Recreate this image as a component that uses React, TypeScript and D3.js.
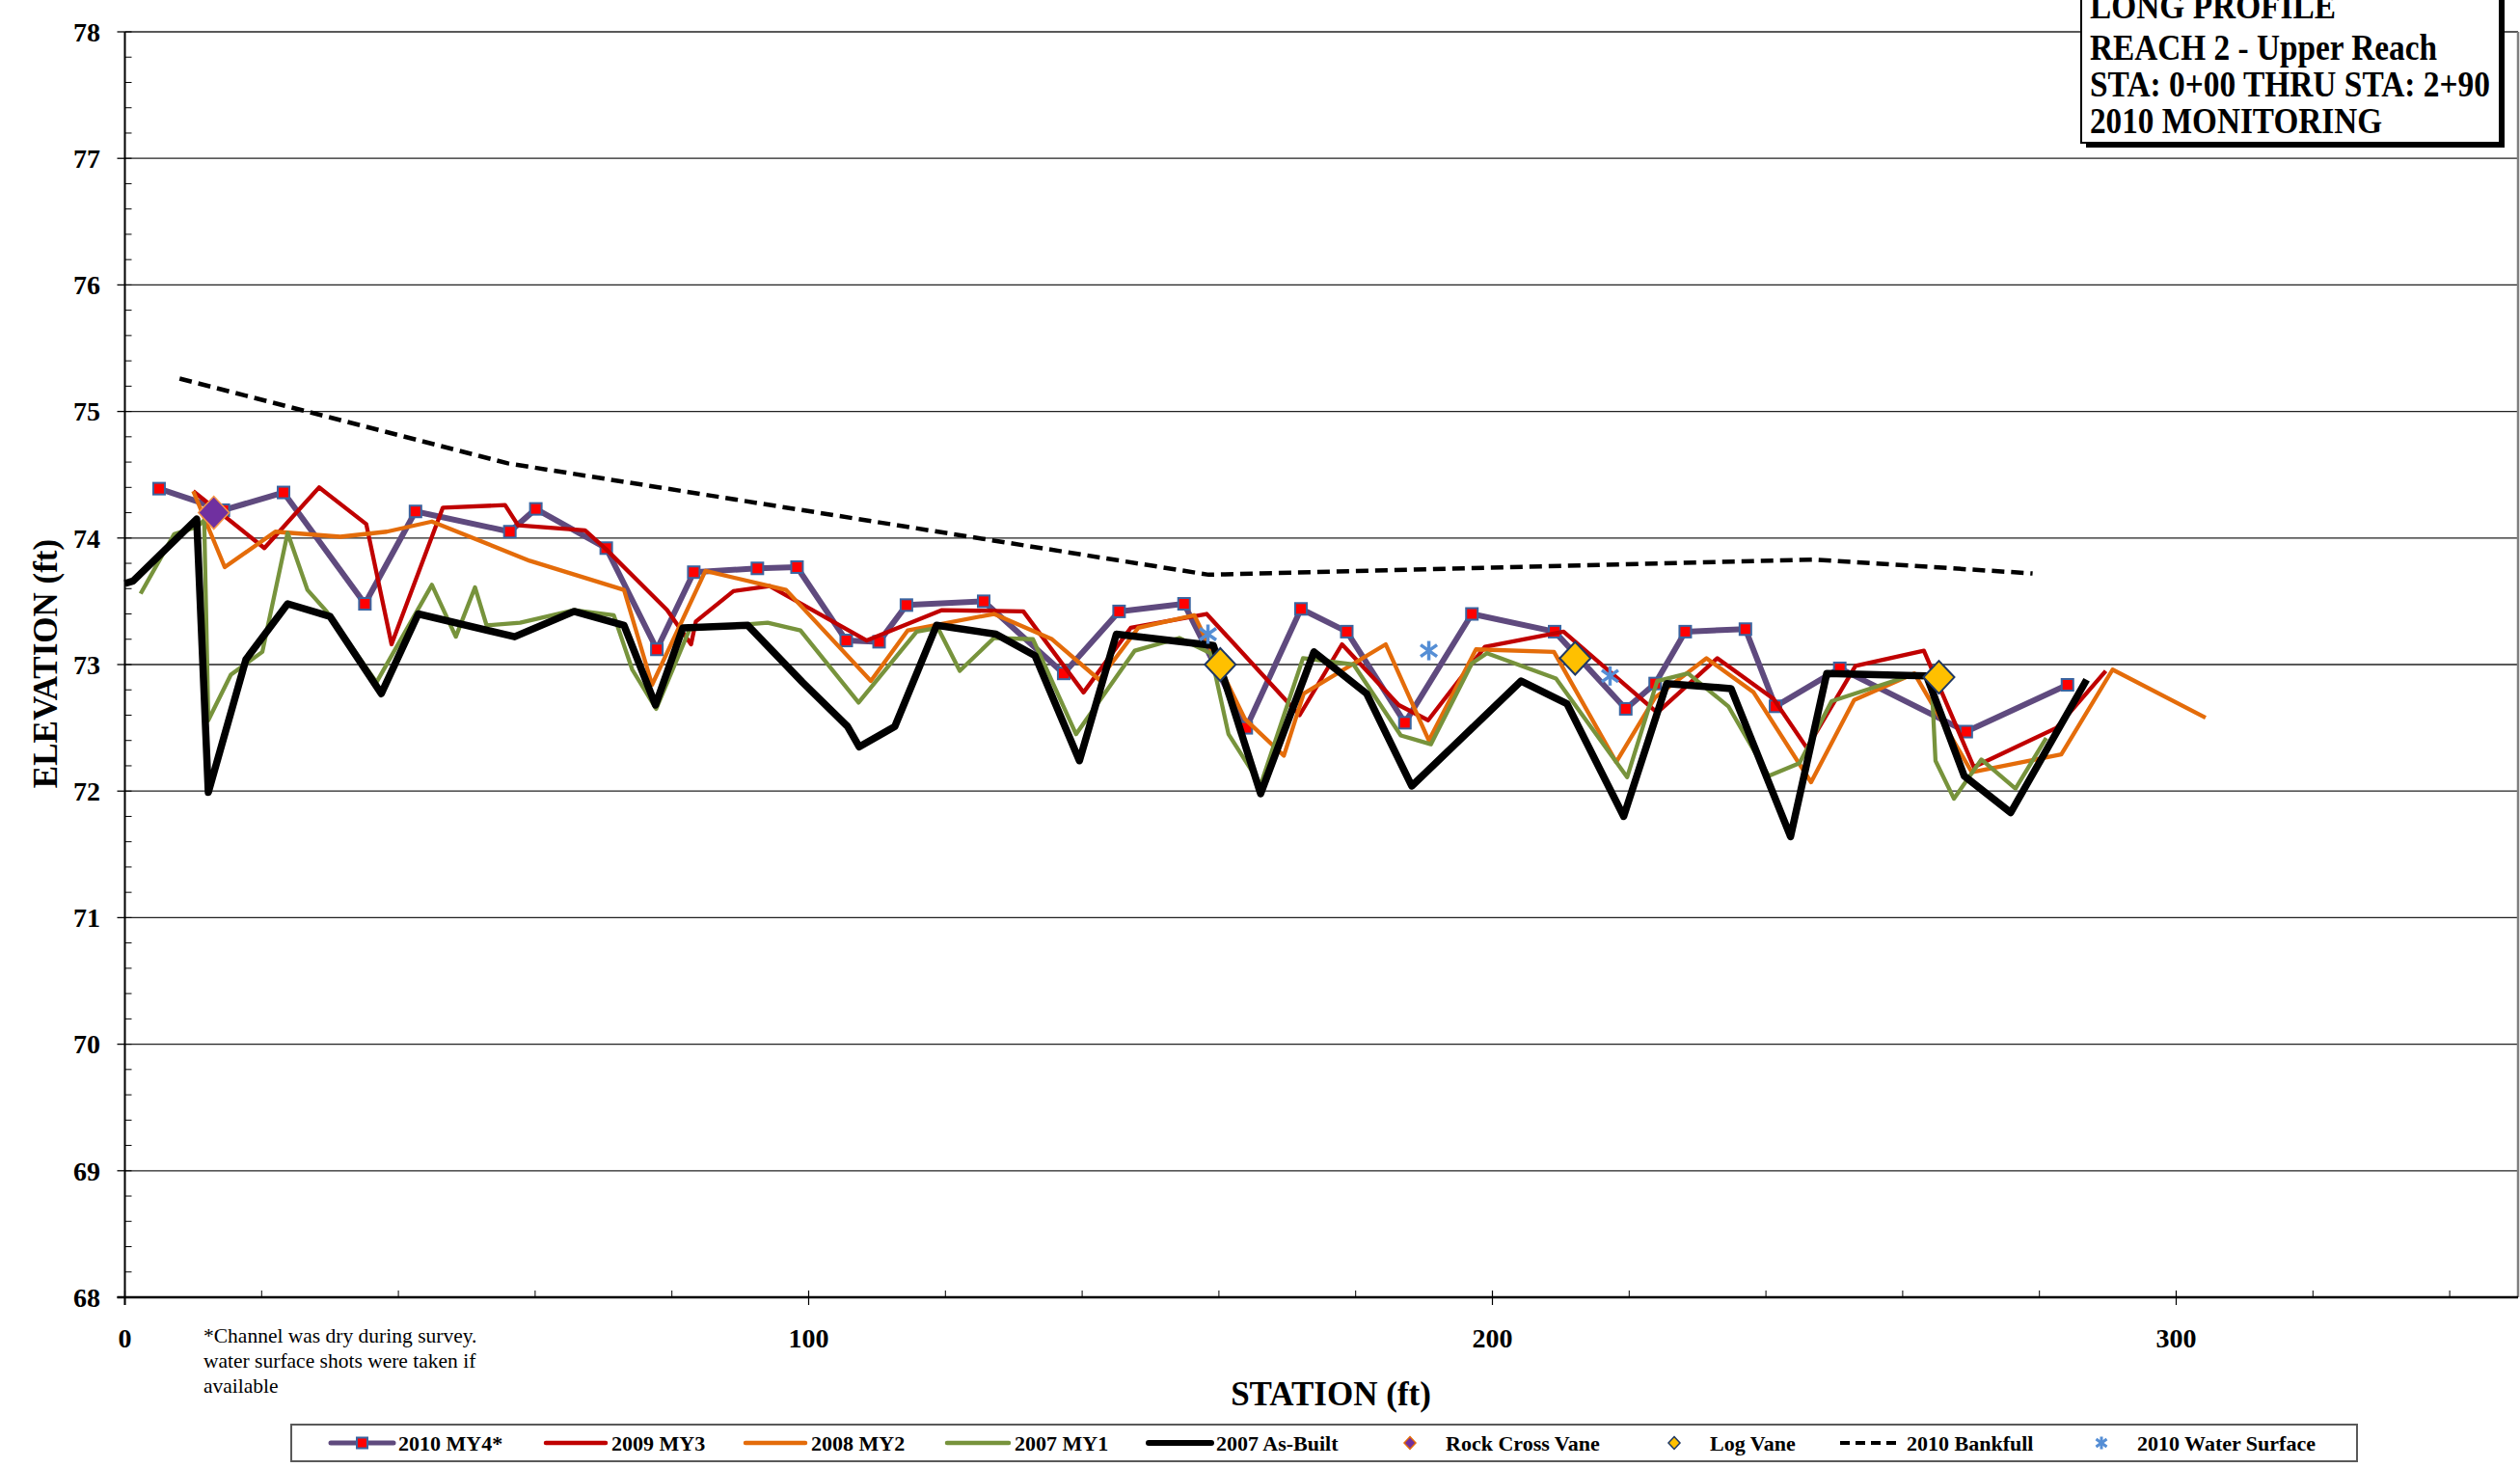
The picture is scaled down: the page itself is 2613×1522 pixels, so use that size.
import React from 'react';
import * as d3 from 'd3';

// ---------- DATA (station ft, elevation ft) ----------
const my4_2010: [number, number][] = [
  [5, 74.39], [14.4, 74.22], [23.2, 74.36], [35.1, 73.48], [42.5, 74.21], [56.3, 74.05],
  [60.1, 74.23], [70.4, 73.92], [77.8, 73.12], [83.2, 73.73], [92.5, 73.76], [98.3, 73.77],
  [105.5, 73.19], [110.3, 73.18], [114.3, 73.47], [125.6, 73.5], [137.3, 72.93], [145.4, 73.42],
  [154.9, 73.48], [164.0, 72.5], [172.0, 73.44], [178.7, 73.26], [187.2, 72.54], [197.0, 73.4],
  [209.1, 73.26], [219.5, 72.65], [223.8, 72.85], [228.2, 73.26], [237.0, 73.28], [241.4, 72.67],
  [250.8, 72.97], [269.3, 72.47], [284.1, 72.84],
];
const my3_2009: [number, number][] = [
  [10.0, 74.37], [20.4, 73.92], [28.4, 74.4], [35.3, 74.11], [39.0, 73.16], [46.5, 74.24],
  [55.6, 74.26], [57.5, 74.1], [67.3, 74.06], [70.4, 73.91], [79.3, 73.43], [82.8, 73.16],
  [83.5, 73.34], [89.0, 73.58], [94.3, 73.62], [108.5, 73.19], [119.5, 73.43], [131.4, 73.42],
  [140.2, 72.78], [147.1, 73.29], [158.2, 73.4], [171.8, 72.6], [178.0, 73.16], [186.3, 72.68],
  [190.6, 72.56], [198.9, 73.14], [210.4, 73.26], [224.1, 72.62], [232.9, 73.05], [241.1, 72.73],
  [246.0, 72.34], [253.1, 72.99], [263.1, 73.11], [270.4, 72.19], [282.5, 72.5], [289.7, 72.95],
];
const my2_2008: [number, number][] = [
  [10.0, 74.37], [14.6, 73.77], [22.0, 74.05], [31.5, 74.01], [38.3, 74.05], [44.9, 74.13],
  [59.2, 73.82], [73.0, 73.59], [77.1, 72.84], [84.9, 73.74], [94.3, 73.62], [96.7, 73.59],
  [109.1, 72.87], [114.5, 73.27], [127.1, 73.4], [135.6, 73.2], [142.5, 72.88], [148.2, 73.29],
  [156.4, 73.39], [163.8, 72.57], [169.5, 72.28], [172.4, 72.77], [184.4, 73.16], [190.7, 72.4],
  [197.6, 73.12], [209.0, 73.1], [218.1, 72.23], [223.8, 72.74], [231.3, 73.05], [238.2, 72.78],
  [246.6, 72.07], [252.9, 72.72], [261.7, 72.93], [270.1, 72.15], [283.2, 72.29], [290.7, 72.96],
  [304.3, 72.58],
];
const my1_2007: [number, number][] = [
  [2.3, 73.56], [7.2, 74.03], [10.6, 74.09], [11.6, 74.14], [12.2, 72.56], [15.5, 72.92],
  [20.1, 73.1], [23.8, 74.04], [26.7, 73.59], [29.5, 73.42], [36.8, 72.86], [44.9, 73.63],
  [48.4, 73.22], [51.2, 73.61], [52.9, 73.31], [57.8, 73.33], [65.7, 73.43], [71.5, 73.39],
  [74.2, 72.96], [77.7, 72.65], [82.6, 73.28], [94.0, 73.33], [98.8, 73.27], [107.3, 72.7],
  [115.8, 73.26], [118.9, 73.29], [122.1, 72.95], [127.1, 73.21], [132.8, 73.2], [139.1, 72.45],
  [147.7, 73.11], [154.2, 73.21], [158.8, 73.09], [161.4, 72.45], [166.1, 72.05], [172.3, 73.05],
  [179.7, 73.0], [186.6, 72.44], [191.0, 72.37], [197.0, 73.01], [199.2, 73.09], [209.3, 72.89],
  [219.7, 72.11], [224.1, 72.87], [228.6, 72.93], [234.5, 72.67], [240.4, 72.12], [244.9, 72.22],
  [249.6, 72.71], [261.5, 72.92], [264.2, 72.9], [264.8, 72.24], [267.5, 71.94], [271.5, 72.25],
  [276.5, 72.02], [281.0, 72.42],
];
const asBuilt_2007: [number, number][] = [
  [0, 73.64], [1.2, 73.66], [10.5, 74.15], [12.2, 71.99], [17.7, 73.04], [23.8, 73.48],
  [30.0, 73.38], [37.5, 72.77], [42.9, 73.4], [57.0, 73.22], [65.7, 73.42], [73.0, 73.31],
  [77.6, 72.68], [81.6, 73.29], [91.1, 73.31], [99.1, 72.86], [105.7, 72.51], [107.4, 72.35],
  [112.6, 72.51], [118.7, 73.31], [127.4, 73.24], [133.1, 73.07], [139.6, 72.24], [145.0, 73.24],
  [159.2, 73.15], [166.1, 71.98], [173.9, 73.1], [181.6, 72.77], [188.2, 72.04], [204.2, 72.87],
  [210.9, 72.69], [219.2, 71.8], [225.5, 72.85], [234.9, 72.81], [243.6, 71.64], [248.9, 72.93],
  [263.5, 72.91], [269.0, 72.12], [275.8, 71.83], [286.9, 72.88],
];
const bankfull_2010: [number, number][] = [
  [8, 75.26], [56, 74.59], [158.5, 73.71], [247, 73.83], [279, 73.72],
];
const rockCrossVane: [number, number][] = [[13.0, 74.2]];
const logVane: [number, number][] = [[160.2, 73.0], [212.1, 73.05], [265.3, 72.9]];
const waterSurface_2010: [number, number][] = [[158.4, 73.24], [190.7, 73.11], [217.2, 72.91]];

const yTicks = [68, 69, 70, 71, 72, 73, 74, 75, 76, 77, 78];
const xTicks = [0, 100, 200, 300];
const titleLines = [
  'LONG PROFILE',
  'REACH 2 - Upper Reach',
  'STA: 0+00 THRU STA: 2+90',
  '2010 MONITORING',
];
const footnoteLines = [
  '*Channel was dry during survey.',
  'water surface shots were taken if',
  'available',
];
const legendLabels = [
  '2010 MY4*', '2009 MY3', '2008 MY2', '2007 MY1', '2007 As-Built',
  'Rock Cross Vane', 'Log Vane', '2010 Bankfull', '2010 Water Surface',
];

// ---------- STYLE ----------
const C_PURPLE = '#5F4A7E';
const C_RED = '#C00000';
const C_ORANGE = '#E46C0A';
const C_GREEN = '#77933C';
const C_BLACK = '#000000';
const SERIF = '"Liberation Serif", "Times New Roman", serif';

const W = 2613, H = 1522;
const x = d3.scaleLinear().domain([0, 350]).range([129.5, 2611]);
const y = d3.scaleLinear().domain([68, 78]).range([1345, 33]);
const line = d3.line<[number, number]>().x(d => x(d[0])).y(d => y(d[1]));

const Square = ({ cx, cy, s = 12 }: { cx: number; cy: number; s?: number }) => (
  <rect x={cx - s / 2} y={cy - s / 2} width={s} height={s} fill="#FF0000" stroke="#3A64A0" strokeWidth={2} />
);
const Diamond = ({ cx, cy, w, h, fill, stroke, sw }: any) => (
  <path d={`M${cx},${cy - h / 2}L${cx + w / 2},${cy}L${cx},${cy + h / 2}L${cx - w / 2},${cy}Z`} fill={fill} stroke={stroke} strokeWidth={sw} />
);
const Star = ({ cx, cy, r = 10, sw = 3.5 }: any) => (
  <g stroke="#558ED5" strokeWidth={sw} fill="none">
    <path d={`M${cx},${cy - r}V${cy + r}`} />
    <path d={`M${cx - r * 0.85},${cy - r * 0.6}L${cx + r * 0.85},${cy + r * 0.6}`} />
    <path d={`M${cx + r * 0.85},${cy - r * 0.6}L${cx - r * 0.85},${cy + r * 0.6}`} />
  </g>
);

export default function App() {
  const yMinor = d3.range(68, 78.001, 0.2);
  const xMinor = d3.range(0, 341, 20);
  const titleWidths = [255, 360, 415, 303];
  const titleBase = [19, 62, 100, 138];

  const legendY = 1496;
  const legendItems = [
    { kind: 'line', color: C_PURPLE, w: 5, x0: 343, x1: 408, tx: 413, marker: 'square' },
    { kind: 'line', color: C_RED, w: 4.5, x0: 566, x1: 628, tx: 634 },
    { kind: 'line', color: C_ORANGE, w: 4.5, x0: 773, x1: 835, tx: 841 },
    { kind: 'line', color: C_GREEN, w: 4.5, x0: 982, x1: 1046, tx: 1052 },
    { kind: 'line', color: C_BLACK, w: 6, x0: 1191, x1: 1256, tx: 1261 },
    { kind: 'rock', mx: 1462, tx: 1499 },
    { kind: 'log', mx: 1736, tx: 1773 },
    { kind: 'dash', color: C_BLACK, w: 4, x0: 1908, x1: 1971, tx: 1977 },
    { kind: 'star', mx: 2179, tx: 2216 },
  ];

  return (
    <div style={{ position: 'absolute', left: 0, top: 0 }}>
      <svg width={W} height={H} style={{ display: 'block', fontFamily: SERIF }}>
        <rect width={W} height={H} fill="#fff" />
        {/* gridlines */}
        {yTicks.map(t => (
          <line key={'g' + t} x1={x(0)} x2={x(350)} y1={y(t)} y2={y(t)} stroke="#222" strokeWidth={1.3} />
        ))}
        {/* right border */}
        <line x1={x(350)} x2={x(350)} y1={y(78)} y2={y(68)} stroke="#7F7F7F" strokeWidth={2.5} />
        {/* y axis */}
        <line x1={x(0)} x2={x(0)} y1={y(78)} y2={y(68) + 8} stroke="#000" strokeWidth={2} />
        {yMinor.map((t, i) => (
          <line key={'ym' + i} x1={x(0)} x2={x(0) + 7} y1={y(t)} y2={y(t)} stroke="#000" strokeWidth={1} />
        ))}
        {yTicks.map(t => (
          <line key={'yM' + t} x1={x(0) - 8} x2={x(0)} y1={y(t)} y2={y(t)} stroke="#000" strokeWidth={1.3} />
        ))}
        {yTicks.map(t => (
          <text key={'yl' + t} x={104} y={y(t)} dy="0.35em" textAnchor="end" fontSize={28} fontWeight="bold">{t}</text>
        ))}
        {/* x axis */}
        <line x1={x(0) - 8} x2={x(350)} y1={y(68)} y2={y(68)} stroke="#000" strokeWidth={2.5} />
        {xMinor.map(t => (
          <line key={'xm' + t} x1={x(t)} x2={x(t)} y1={y(68) - 7} y2={y(68)} stroke="#000" strokeWidth={1} />
        ))}
        {xTicks.map(t => (
          <line key={'xM' + t} x1={x(t)} x2={x(t)} y1={y(68) - 7} y2={y(68) + 8} stroke="#000" strokeWidth={1.2} />
        ))}
        {xTicks.map(t => (
          <text key={'xl' + t} x={x(t)} y={1397} textAnchor="middle" fontSize={28} fontWeight="bold">{t}</text>
        ))}
        {/* axis titles */}
        <text x={1380} y={1457} textAnchor="middle" fontSize={35} fontWeight="bold">STATION (ft)</text>
        <text transform="translate(59,688) rotate(-90)" textAnchor="middle" fontSize={35} fontWeight="bold">ELEVATION (ft)</text>
        {/* footnote */}
        {footnoteLines.map((t, i) => (
          <text key={'fn' + i} x={211} y={1392 + i * 26} fontSize={21.5}>{t}</text>
        ))}

        {/* series */}
        <path d={line(my4_2010) || ''} fill="none" stroke={C_PURPLE} strokeWidth={6} strokeLinejoin="round" />
        {my4_2010.map((d, i) => <Square key={'sq' + i} cx={x(d[0])} cy={y(d[1])} />)}
        <path d={line(my3_2009) || ''} fill="none" stroke={C_RED} strokeWidth={4.3} strokeLinejoin="round" />
        <path d={line(my2_2008) || ''} fill="none" stroke={C_ORANGE} strokeWidth={4.3} strokeLinejoin="round" />
        <path d={line(my1_2007) || ''} fill="none" stroke={C_GREEN} strokeWidth={4.3} strokeLinejoin="round" />
        <path d={line(asBuilt_2007) || ''} fill="none" stroke={C_BLACK} strokeWidth={7.5} strokeLinejoin="round" />
        {rockCrossVane.map((d, i) => (
          <Diamond key={'rc' + i} cx={x(d[0])} cy={y(d[1])} w={32} h={34} fill="#7030A0" stroke="#F79646" sw={1.5} />
        ))}
        {logVane.map((d, i) => (
          <Diamond key={'lv' + i} cx={x(d[0])} cy={y(d[1])} w={32} h={34} fill="#FFC000" stroke="#1F3864" sw={2} />
        ))}
        <path d={line(bankfull_2010) || ''} fill="none" stroke={C_BLACK} strokeWidth={4.5} strokeDasharray="13 7" />
        {waterSurface_2010.map((d, i) => <Star key={'ws' + i} cx={x(d[0])} cy={y(d[1])} />)}

        {/* title box */}
        <rect x={2163} y={-15} width={434} height={168} fill="#000" />
        <rect x={2158} y={-20} width={434} height={168} fill="#fff" stroke="#000" strokeWidth={2} />
        {titleLines.map((t, i) => (
          <text key={'tt' + i} x={2167} y={titleBase[i]} fontSize={38} fontWeight="bold"
            textLength={titleWidths[i]} lengthAdjust="spacingAndGlyphs">{t}</text>
        ))}

        {/* legend */}
        <rect x={302} y={1477} width={2142} height={38} fill="#fff" stroke="#595959" strokeWidth={2} />
        {legendItems.map((it: any, i) => (
          <g key={'lg' + i}>
            {it.kind === 'line' && (
              <line x1={it.x0} x2={it.x1} y1={legendY} y2={legendY} stroke={it.color} strokeWidth={it.w} strokeLinecap="round" />
            )}
            {it.marker === 'square' && <Square cx={(it.x0 + it.x1) / 2} cy={legendY} s={11} />}
            {it.kind === 'dash' && (
              <line x1={it.x0} x2={it.x1} y1={legendY} y2={legendY} stroke={it.color} strokeWidth={it.w} strokeDasharray="10 6" />
            )}
            {it.kind === 'rock' && <Diamond cx={it.mx} cy={legendY} w={12} h={13} fill="#7030A0" stroke="#E46C0A" sw={1.5} />}
            {it.kind === 'log' && <Diamond cx={it.mx} cy={legendY} w={12} h={13} fill="#FFC000" stroke="#1F3864" sw={1.5} />}
            {it.kind === 'star' && <Star cx={it.mx} cy={legendY} r={6.5} sw={3} />}
            <text x={it.tx} y={legendY + 8} fontSize={22} fontWeight="bold">{legendLabels[i]}</text>
          </g>
        ))}
      </svg>
    </div>
  );
}
